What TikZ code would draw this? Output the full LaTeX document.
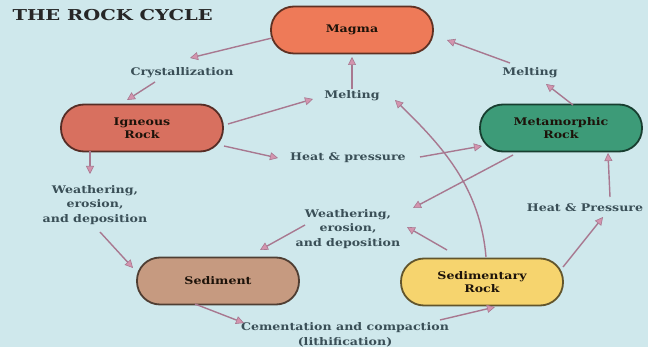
\documentclass[tikz,border=0pt]{standalone}
\usepackage{fontspec}
\setmainfont{DejaVu Serif}
\newfontfamily\widefont[FakeStretch=1.2]{DejaVu Serif}
\newfontfamily\titlefont[FakeStretch=1.3]{DejaVu Serif}
\usetikzlibrary{arrows.meta}
\definecolor{bgc}{HTML}{CFE8EC}
\definecolor{labelc}{HTML}{3A4F57}
\definecolor{arrowc}{HTML}{A87890}
\definecolor{tipc}{HTML}{D394AE}
\definecolor{magmac}{HTML}{EE7A58}
\definecolor{ignc}{HTML}{D8705F}
\definecolor{metc}{HTML}{3D9B78}
\definecolor{sedc}{HTML}{C69A80}
\definecolor{srockc}{HTML}{F6D46E}
\begin{document}
\begin{tikzpicture}[x=1pt,y=-1pt,
  rock/.style={fill=#1, draw=#1!40!black, line width=1.8pt, rounded corners=23pt,
    minimum width=162pt, minimum height=47pt, align=center, inner sep=2pt,
    font=\widefont\bfseries\fontsize{10.5}{13}\selectfont, text=black!85!brown},
  lbl/.style={align=center, inner sep=1pt, text=labelc,
    font=\widefont\bfseries\fontsize{10.5}{14.5}\selectfont},
  arr/.style={draw=arrowc, line width=1.4pt,
    -{Triangle[length=8pt,width=8pt,fill=tipc,color=arrowc,line width=0.6pt]}}
]
\fill[bgc] (0,0) rectangle (648,347);
\useasboundingbox (0,0) rectangle (648,347);

\node[anchor=west, text=black!85, font=\titlefont\bfseries\fontsize{15}{17}\selectfont] (title) at (9,15) {THE ROCK CYCLE};

% rocks
\node[rock=magmac] (M) at (352,30) {Magma};
\node[rock=ignc] (I) at (142,128) {Igneous\\Rock};
\node[rock=metc] (T) at (561,128) {Metamorphic\\Rock};
\node[rock=sedc] (S) at (218,281) {Sediment};
\node[rock=srockc] (R) at (482,282) {Sedimentary\\Rock};

% process labels
\node[lbl] (C)  at (182,73)  {Crystallization};
\node[lbl] (L1) at (352,96)  {Melting};
\node[lbl] (L2) at (530,73)  {Melting};
\node[lbl] (H1) at (348,158) {Heat \& pressure};
\node[lbl] (W1) at (95,205)  {Weathering,\\erosion,\\and deposition};
\node[lbl] (W2) at (348,229) {Weathering,\\erosion,\\and deposition};
\node[lbl] (H2) at (585,208) {Heat \& Pressure};
\node[lbl] (K)  at (345,335) {Cementation and compaction\\(lithification)};

% connectors
\draw[arr] ([shift={(-80,8)}]M.center) -- ([shift={(8,-15)}]C.center);
\draw[arr] ([shift={(-27,9)}]C.center) -- ([shift={(-15,-28)}]I.center);
\draw[arr] ([shift={(86,-4)}]I.center) -- ([shift={(-39,3)}]L1.center);
\draw[arr] ([shift={(0,-7)}]L1.center) -- ([shift={(0,27)}]M.center);
\draw[arr] ([shift={(82,18)}]I.center) -- ([shift={(-70,0)}]H1.center);
\draw[arr] ([shift={(72,-1)}]H1.center) -- ([shift={(-79,18)}]T.center);
\draw[arr] ([shift={(12,-23)}]T.center) -- ([shift={(16,11)}]L2.center);
\draw[arr] ([shift={(-20,-10)}]L2.center) -- ([shift={(95,10)}]M.center);
\draw[arr] ([shift={(-52,23)}]I.center) -- ([shift={(-5,-31)}]W1.center);
\draw[arr] ([shift={(5,27)}]W1.center) -- ([shift={(-85,-13)}]S.center);
\draw[arr] ([shift={(-23,23)}]S.center) -- ([shift={(-101,-12)}]K.center);
\draw[arr] ([shift={(95,-15)}]K.center) -- ([shift={(13,25)}]R.center);
\draw[arr] ([shift={(81,-15)}]R.center) -- ([shift={(18,9)}]H2.center);
\draw[arr] ([shift={(25,-11)}]H2.center) -- ([shift={(47,25)}]T.center);
\draw[arr] ([shift={(-48,27)}]T.center) -- ([shift={(65,-21)}]W2.center);
\draw[arr] ([shift={(-35,-32)}]R.center) -- ([shift={(59,-2)}]W2.center);
\draw[arr] ([shift={(-43,-4)}]W2.center) -- ([shift={(42,-31)}]S.center);
\draw[arr] ([shift={(4,-25)}]R.center) .. controls ([shift={(-2,-95)}]R.center) and ([shift={(90,50)}]L1.center) .. ([shift={(43,4)}]L1.center);
\end{tikzpicture}
\end{document}
